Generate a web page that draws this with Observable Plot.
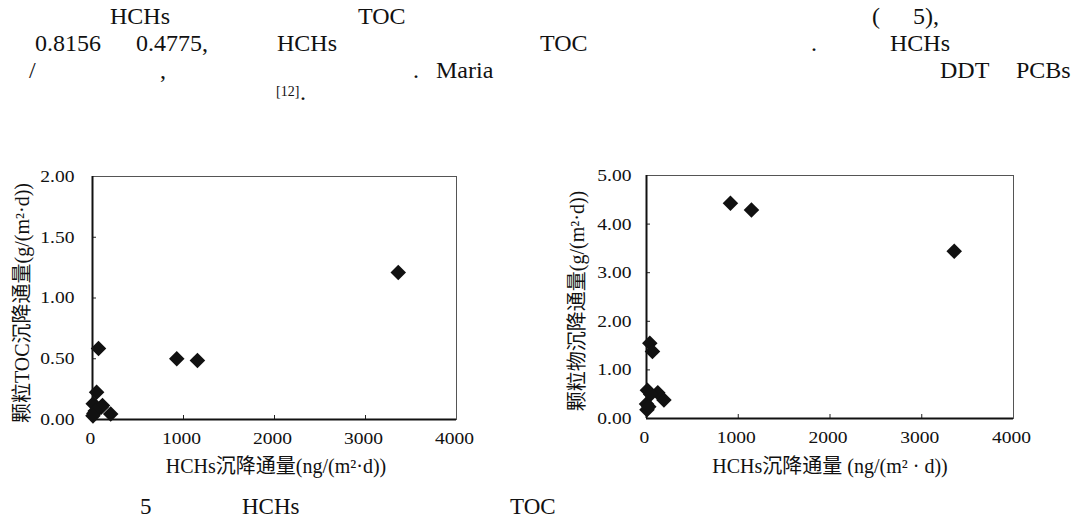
<!DOCTYPE html>
<html><head><meta charset="utf-8">
<script src="https://cdn.jsdelivr.net/npm/d3@7"></script>
<script src="https://cdn.jsdelivr.net/npm/@observablehq/plot@0.6"></script>
<style>
html,body{margin:0;padding:0;background:#fff;}
body{width:1083px;height:525px;position:relative;overflow:hidden;font-family:"Liberation Serif","Times New Roman",Tinos,"DejaVu Serif",serif,"Noto Sans CJK SC";color:#111;}
.t{position:absolute;font-size:24px;line-height:24px;white-space:pre;}
.sup{position:absolute;font-size:14px;line-height:14px;}
.cap{position:absolute;font-size:23px;line-height:23px;white-space:pre;}
.chart{position:absolute;top:150px;}
.xt{position:absolute;font-size:20px;line-height:20px;white-space:pre;transform:translateX(-50%);}
.yt{position:absolute;font-size:20px;line-height:20px;white-space:pre;transform:translate(-50%,-50%) rotate(-90deg);}
</style></head><body>
<span class="t" style="left:110px;top:4px">HCHs</span>
<span class="t" style="left:358px;top:4px">TOC</span>
<span class="t" style="left:872px;top:4px">(</span>
<span class="t" style="left:913px;top:4px">5),</span>

<span class="t" style="left:35px;top:31px">0.8156</span>
<span class="t" style="left:136px;top:31px">0.4775,</span>
<span class="t" style="left:277px;top:31px">HCHs</span>
<span class="t" style="left:540px;top:31px">TOC</span>
<span class="t" style="left:811px;top:31px">.</span>
<span class="t" style="left:890px;top:31px">HCHs</span>

<span class="t" style="left:29px;top:58px">/</span>
<span class="t" style="left:160px;top:58px">,</span>
<span class="t" style="left:413px;top:58px">.</span>
<span class="t" style="left:436px;top:58px">Maria</span>
<span class="t" style="left:940px;top:58px">DDT</span>
<span class="t" style="left:1016px;top:58px">PCBs</span>

<span class="sup" style="left:276px;top:85px">[12]</span>
<span class="t" style="left:300px;top:80px">.</span>

<div id="left" class="chart" style="left:0px"></div>
<div id="right" class="chart" style="left:540px"></div>

<div class="yt" id="ytA" style="left:22px;top:303px"></div>
<div class="xt" id="xtA" style="left:276px;top:456px"></div>
<div class="yt" id="ytB" style="left:577px;top:301px"></div>
<div class="xt" id="xtB" style="left:830px;top:456px"></div>

<span class="cap" style="left:140px;top:495px">5</span>
<span class="cap" style="left:242px;top:495px">HCHs</span>
<span class="cap" style="left:510px;top:495px">TOC</span>

<script>
// ---- data ----
// left panel: HCHs flux vs particulate TOC flux
const hchsA = [3360, 926, 1153, 66, 45, 200, 110, 8, 95, 15, 30, 5];
const tocA  = [1.21, 0.50, 0.485, 0.585, 0.225, 0.045, 0.115, 0.13, 0.10, 0.05, 0.07, 0.03];
// right panel: HCHs flux vs particle flux
const hchsB = [915, 1144, 3354, 36, 65, 10, 123, 190, 0, 5, 45, 25];
const partB = [4.43, 4.29, 3.44, 1.55, 1.38, 0.58, 0.53, 0.38, 0.30, 0.18, 0.50, 0.24];

const xTicks  = [0, 1000, 2000, 3000, 4000];
const yTicksA = [0, 0.5, 1, 1.5, 2];
const yTicksB = [0, 1, 2, 3, 4, 5];

const xTitleA = "HCHs沉降通量(ng/(m²·d))";
const yTitleA = "颗粒TOC沉降通量(g/(m²·d))";
const xTitleB = "HCHs沉降通量 (ng/(m² · d))";
const yTitleB = "颗粒物沉降通量(g/(m²·d))";

document.getElementById("xtA").textContent = xTitleA;
document.getElementById("ytA").textContent = yTitleA;
document.getElementById("xtB").textContent = xTitleB;
document.getElementById("ytB").textContent = yTitleB;

const FONT = '"Liberation Serif", "Times New Roman", Tinos, "DejaVu Serif", serif, "Noto Sans CJK SC"';

function scatter({xs, ys, yTicks, width, height, mL, mR, mT, mB, yPad}) {
  const fw = width - mL - mR, fh = height - mT - mB;
  const data = xs.map((x, i) => ({x, y: ys[i]}));
  return Plot.plot({
    width, height,
    marginLeft: mL, marginRight: mR, marginTop: mT, marginBottom: mB,
    x: {domain: [xTicks[0], xTicks[xTicks.length - 1]]},
    y: {domain: [yTicks[0], yTicks[yTicks.length - 1]]},
    style: {fontFamily: FONT, fontSize: "17px", color: "#111", background: "transparent", overflow: "visible"},
    marks: [
      Plot.frame({stroke: "#555", strokeWidth: 1}),
      Plot.tickX(xTicks.slice(1, -1), {insetTop: fh - 4, stroke: "#222"}),
      Plot.tickY(yTicks.slice(1, -1), {insetRight: fw - 4, stroke: "#222"}),
      Plot.ruleX([xTicks[0]], {stroke: "#111", strokeWidth: 2}),
      Plot.ruleY([yTicks[0]], {stroke: "#111", strokeWidth: 2}),
      Plot.axisX(xTicks, {tickSize: 0, tickPadding: 12, tickFormat: d3.format("d"), label: null, dx: -2}),
      Plot.axisY(yTicks, {tickSize: 0, tickPadding: yPad, tickFormat: d3.format(".2f"), label: null}),
      Plot.dot(data, {x: "x", y: "y", symbol: "diamond2", r: 7, fill: "#111", stroke: "none"})
    ]
  });
}

function widen(svg) {
  svg.querySelectorAll('g[aria-label="x-axis tick label"] text, g[aria-label="y-axis tick label"] text').forEach(t => {
    const tr = t.getAttribute("transform");
    if (tr) t.setAttribute("transform", tr + " scale(1.15,1)");
  });
}

const A = scatter({xs: hchsA, ys: tocA, yTicks: yTicksA, width: 520, height: 340, mL: 92, mR: 64, mT: 26, mB: 71, yPad: 18});
document.getElementById("left").append(A); widen(A);
const B = scatter({xs: hchsB, ys: partB, yTicks: yTicksB, width: 543, height: 340, mL: 106, mR: 70, mT: 25, mB: 72, yPad: 15});
document.getElementById("right").append(B); widen(B);
</script>
</body></html>
